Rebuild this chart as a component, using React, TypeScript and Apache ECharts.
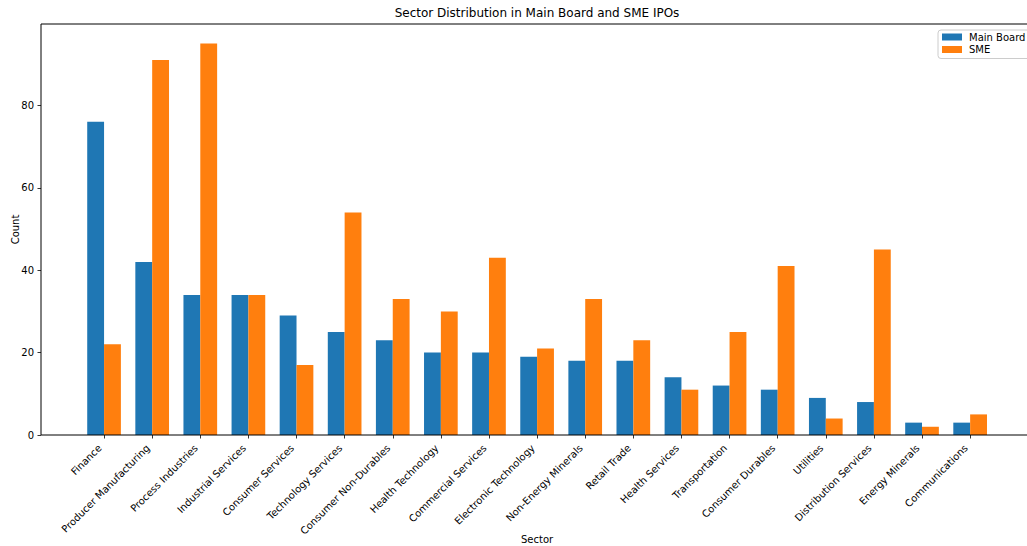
import React, { useEffect, useRef } from "react";
import * as echarts from "echarts";

const categories = [
  "Finance",
  "Producer Manufacturing",
  "Process Industries",
  "Industrial Services",
  "Consumer Services",
  "Technology Services",
  "Consumer Non-Durables",
  "Health Technology",
  "Commercial Services",
  "Electronic Technology",
  "Non-Energy Minerals",
  "Retail Trade",
  "Health Services",
  "Transportation",
  "Consumer Durables",
  "Utilities",
  "Distribution Services",
  "Energy Minerals",
  "Communications",
];
const mainBoard = [76, 42, 34, 34, 29, 25, 23, 20, 20, 19, 18, 18, 14, 12, 11, 9, 8, 3, 3];
const sme = [22, 91, 95, 34, 17, 54, 33, 30, 43, 21, 33, 23, 11, 25, 41, 4, 45, 2, 5];
const yTicks = [0, 20, 40, 60, 80];

const FONT = "DejaVu Sans";

export default function App() {
  const ref = useRef<HTMLDivElement>(null);
  useEffect(() => {
    if (!ref.current) return;
    const chart = echarts.init(ref.current, undefined, { renderer: "svg" });
    chart.setOption({
      animation: false,
      backgroundColor: "#ffffff",
      textStyle: { fontFamily: FONT },
      title: {
        text: "Sector Distribution in Main Board and SME IPOs",
        left: 537,
        top: 7,
        textAlign: "center",
        padding: 0,
        textStyle: { fontSize: 12, fontWeight: "normal", color: "#000", fontFamily: FONT },
      },
      legend: {
        orient: "vertical",
        left: 938,
        top: 30,
        padding: [2, 8, 4, 4],
        itemWidth: 20,
        itemHeight: 7,
        itemGap: 2.5,
        icon: "rect",
        borderColor: "#cccccc",
        borderWidth: 1,
        borderRadius: 3,
        backgroundColor: "rgba(255,255,255,0.8)",
        textStyle: { fontSize: 10, color: "#000", fontFamily: FONT, padding: [0, 0, 0, 2] },
        data: ["Main Board", "SME"],
      },
      grid: {
        left: 80,
        right: 32.8,
        top: 24,
        bottom: 111,
        containLabel: false,
        outerBoundsMode: "none",
      },
      xAxis: {
        type: "category",
        data: categories,
        name: "Sector",
        nameLocation: "middle",
        nameGap: 99,
        nameMoveOverlap: false,
        nameTextStyle: { fontSize: 10, color: "#000", fontFamily: FONT },
        axisLine: { show: false },
        axisTick: { show: true, alignWithLabel: true, length: 3.5, lineStyle: { color: "#000", width: 0.8 } },
        axisLabel: {
          interval: 0,
          rotate: 45,
          margin: 7,
          fontSize: 10,
          color: "#000",
          fontFamily: FONT,
          padding: [0, 6, 0, 0],
        },
        splitLine: { show: false },
      },
      yAxis: {
        type: "value",
        min: 0,
        max: 99.75,
        interval: 20,
        offset: 39,
        name: "Count",
        nameLocation: "middle",
        nameRotate: 90,
        nameGap: 21,
        nameMoveOverlap: false,
        nameTextStyle: { fontSize: 10, color: "#000", fontFamily: FONT },
        axisLine: { show: false },
        axisTick: { show: true, length: 3.5, lineStyle: { color: "#000", width: 0.8 }, customValues: yTicks },
        axisLabel: { margin: 7, fontSize: 10, color: "#000", fontFamily: FONT, customValues: yTicks },
        splitLine: { show: false },
      },
      series: [
        {
          name: "Main Board",
          type: "bar",
          data: mainBoard,
          barWidth: 16.84,
          barGap: "0%",
          itemStyle: { color: "#1f77b4" },
        },
        {
          name: "SME",
          type: "bar",
          data: sme,
          barWidth: 16.84,
          barGap: "0%",
          itemStyle: { color: "#ff7f0e" },
        },
      ],
      graphic: [
        {
          type: "rect",
          silent: true,
          z: 100,
          shape: { x: 41, y: 24, width: 992, height: 411 },
          style: { fill: "none", stroke: "#000", lineWidth: 1 },
        },
      ],
    });
    return () => chart.dispose();
  }, []);
  return (
    <div
      ref={ref}
      style={{ position: "fixed", left: 0, top: 0, width: 1027, height: 546 }}
    />
  );
}
